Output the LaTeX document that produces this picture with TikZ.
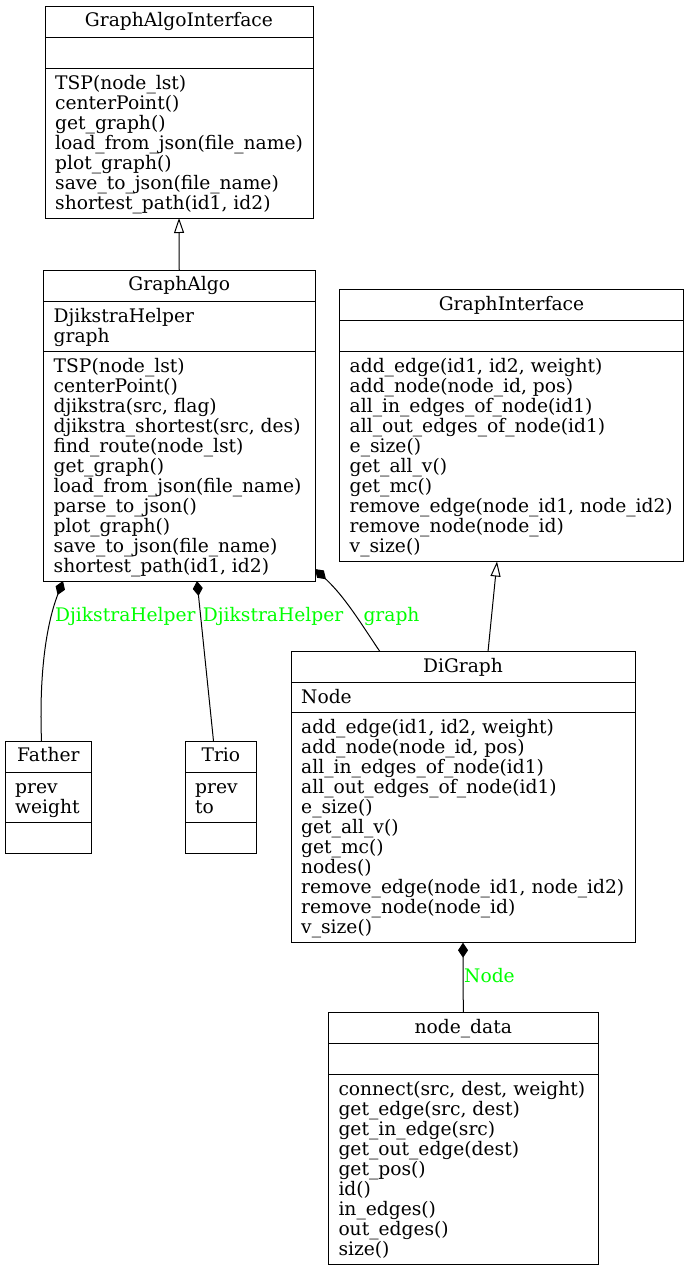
\documentclass[tikz,border=0pt]{standalone}
\usepackage{fontspec}
\setmainfont{DejaVu Serif}
\usetikzlibrary{arrows.meta,calc}

\definecolor{lblgreen}{RGB}{0,255,0}

\tikzset{
  x=1pt, y=-1pt,
  classbox/.style={draw=black, line width=0.9pt, inner sep=0pt, outer sep=0pt, fill=white},
  sepline/.style={draw=black, line width=0.9pt},
  member/.style={anchor=base west, inner sep=0pt, font=\fontsize{18.67}{20}\selectfont},
  ctitle/.style={anchor=base, inner sep=0pt, font=\fontsize{18.67}{20}\selectfont},
  rolelabel/.style={anchor=base west, inner sep=0pt, text=lblgreen, font=\fontsize{18.67}{20}\selectfont},
  link/.style={draw=black, line width=1pt},
  compo/.style={link, -{Diamond[length=15pt,width=10pt]}},
  inherit/.style={link, -{Triangle[open,length=15pt,width=10pt]}},
}

% \umlclass{name}{left}{top}{width}{title}{#attrs}{attrs}{#methods}{methods}
\newcommand\umlclass[9]{%
  \pgfmathsetmacro\attrh{#6==0 ? 31 : 20*#6+10}%
  \pgfmathsetmacro\methh{#8==0 ? 31 : 20*#8+10}%
  \pgfmathsetmacro\toth{31+\attrh+\methh}%
  \node[classbox, minimum width=#4pt, minimum height=\toth pt, anchor=north west] (#1) at (#2,#3) {};
  \pgfmathsetmacro\sepb{31+\attrh}%
  \draw[sepline] ([yshift=-31pt]#1.north west) -- ([yshift=-31pt]#1.north east);
  \draw[sepline] ([yshift=-\sepb pt]#1.north west) -- ([yshift=-\sepb pt]#1.north east);
  \node[ctitle] (#1-title) at ([yshift=-20.5pt]#1.north) {#5};
  \ifnum#6>0\relax
    \foreach \t [count=\i] in {#7} {
      \pgfmathsetmacro\yy{31+21+20*(\i-1)}
      \node[member] (#1-a\i) at ([xshift=10pt,yshift=-\yy pt]#1.north west) {\t};
    }
  \fi
  \ifnum#8>0\relax
    \foreach \t [count=\i] in {#9} {
      \pgfmathsetmacro\yy{\sepb+21+20*(\i-1)}
      \node[member] (#1-m\i) at ([xshift=10pt,yshift=-\yy pt]#1.north west) {\t};
    }
  \fi
}

\begin{document}
\begin{tikzpicture}
\useasboundingbox (0,0) rectangle (689,1272);

\umlclass{gai}{45}{6}{268}{GraphAlgoInterface}{0}{}{7}{%
  TSP(node\_lst), centerPoint(), get\_graph(), load\_from\_json(file\_name),
  plot\_graph(), save\_to\_json(file\_name), {shortest\_path(id1, id2)}}

\umlclass{ga}{43.5}{270}{271.5}{GraphAlgo}{2}{DjikstraHelper, graph}{11}{%
  TSP(node\_lst), centerPoint(), {djikstra(src, flag)}, {djikstra\_shortest(src, des)},
  find\_route(node\_lst), get\_graph(), load\_from\_json(file\_name), parse\_to\_json(),
  plot\_graph(), save\_to\_json(file\_name), {shortest\_path(id1, id2)}}

\umlclass{gi}{339.5}{289.5}{344}{GraphInterface}{0}{}{10}{%
  {add\_edge(id1, id2, weight)}, {add\_node(node\_id, pos)}, all\_in\_edges\_of\_node(id1),
  all\_out\_edges\_of\_node(id1), e\_size(), get\_all\_v(), get\_mc(),
  {remove\_edge(node\_id1, node\_id2)}, remove\_node(node\_id), v\_size()}

\umlclass{dg}{291}{651.7}{344}{DiGraph}{1}{Node}{11}{%
  {add\_edge(id1, id2, weight)}, {add\_node(node\_id, pos)}, all\_in\_edges\_of\_node(id1),
  all\_out\_edges\_of\_node(id1), e\_size(), get\_all\_v(), get\_mc(), nodes(),
  {remove\_edge(node\_id1, node\_id2)}, remove\_node(node\_id), v\_size()}

\umlclass{fa}{5}{741}{86.7}{Father}{2}{prev, weight}{0}{}

\umlclass{tr}{185}{741}{71.7}{Trio}{2}{prev, to}{0}{}

\umlclass{nd}{328.3}{1012.7}{270}{node\_data}{0}{}{9}{%
  {connect(src, dest, weight)}, {get\_edge(src, dest)}, get\_in\_edge(src),
  get\_out\_edge(dest), get\_pos(), id(), in\_edges(), out\_edges(), size()}

% generalisations
\draw[inherit] (ga.north) -- (gai.south);
\draw[inherit] ($(dg.north west)+(197,0)$) -- ($(gi.south west)+(157.5,0)$);

% compositions
\draw[compo] ($(fa.north west)+(36.5,0)$) .. controls (39,675) and (46,625) .. ($(ga.south west)+(19.5,0)$);
\draw[compo] ($(tr.north west)+(28.5,0)$) -- ($(ga.south west)+(153.5,0)$);
\draw[compo] ($(dg.north west)+(89,0)$) .. controls (360,622) and (345,597) .. ($(ga.south east)+(0,-12)$);
\draw[compo] (nd.north) -- (dg.south);

% role names
\node[rolelabel] (r1) at (55,621.7) {DjikstraHelper};
\node[rolelabel] (r2) at (202.7,621.7) {DjikstraHelper};
\node[rolelabel] (r3) at (363.3,621.7) {graph};
\node[rolelabel] (r4) at (464,982.7) {Node};
\end{tikzpicture}
\end{document}
